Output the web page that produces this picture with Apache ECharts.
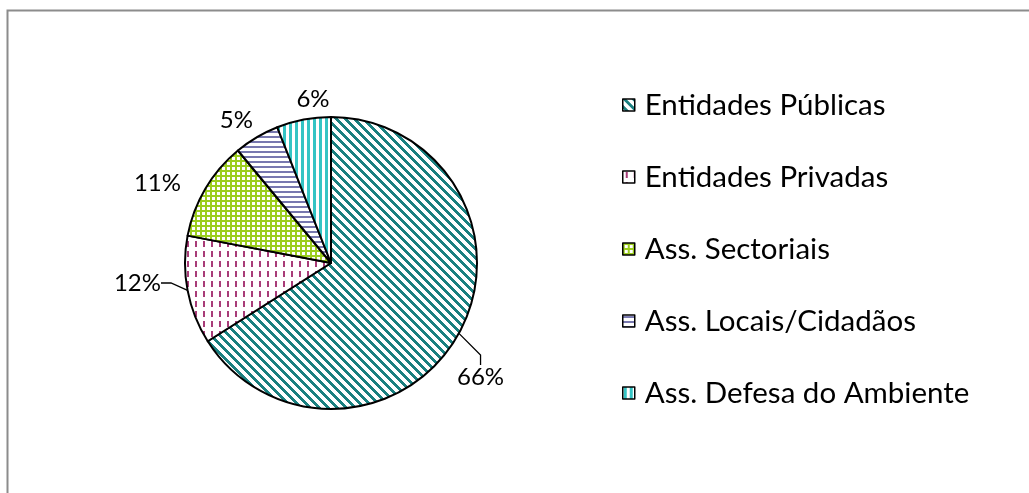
<!DOCTYPE html>
<html>
<head>
<meta charset="utf-8">
<script src="https://cdn.jsdelivr.net/npm/echarts@6/dist/echarts.min.js"></script>
<style>
html,body{margin:0;padding:0;background:#fff;}
#c{width:1029px;height:493px;}
</style>
</head>
<body>
<div id="c"></div>
<script>
const categories = ['Entidades Públicas', 'Entidades Privadas', 'Ass. Sectoriais', 'Ass. Locais/Cidadãos', 'Ass. Defesa do Ambiente'];
const values = [66, 12, 11, 5, 6];
const labelTexts = ['66%', '12%', '11%', '5%', '6%'];

function tile(w, h, rgb, pred) {
  const c = document.createElement('canvas');
  c.width = w; c.height = h;
  const ctx = c.getContext('2d');
  const img = ctx.createImageData(w, h);
  for (let y = 0; y < h; y++) {
    for (let x = 0; x < w; x++) {
      const i = (y * w + x) * 4;
      const on = pred(x, y);
      img.data[i] = on ? rgb[0] : 255;
      img.data[i + 1] = on ? rgb[1] : 255;
      img.data[i + 2] = on ? rgb[2] : 255;
      img.data[i + 3] = 255;
    }
  }
  ctx.putImageData(img, 0, 0);
  return { image: c, repeat: 'repeat' };
}
const patterns = [
  tile(9, 9, [26, 128, 128], (x, y) => ((x - y + 18) % 9) < 4),
  tile(8, 10, [168, 60, 120], (x, y) => x >= 3 && x < 5 && y >= 1 && y < 7),
  tile(5, 5, [155, 205, 30], (x, y) => x < 2 || y < 2),
  tile(5, 5, [120, 120, 175], (x, y) => y === 1 || y === 2),
  tile(6, 6, [52, 196, 196], (x, y) => x >= 1 && x < 4)
];

const labelPos = [
  { x: 457, y: 377, align: 'left' },
  { x: 161, y: 283, align: 'right' },
  { x: 181, y: 183, align: 'right' },
  { x: 253, y: 120, align: 'right' },
  { x: 313, y: 99, align: 'center' }
];

const chart = echarts.init(document.getElementById('c'), null, { renderer: 'canvas' });
chart.setOption({
  animation: false,
  backgroundColor: '#fff',
  graphic: [{
    type: 'rect',
    shape: { x: 7.5, y: 10.5, width: 1040, height: 500 },
    style: { fill: 'none', stroke: '#8c8c8c', lineWidth: 2 },
    silent: true, z: -1
  }],
  legend: {
    orient: 'vertical',
    left: 617,
    top: 85,
    itemGap: 42,
    itemWidth: 12,
    itemHeight: 12,
    icon: 'rect',
    textStyle: { fontFamily: 'Lato', fontSize: 29.5, lineHeight: 30, color: '#000', padding: [0, 0, 0, 5] },
    itemStyle: { borderColor: '#000', borderWidth: 1.5 },
    data: categories
  },
  series: [{
    type: 'pie',
    center: [331, 263],
    radius: 146,
    startAngle: 90,
    clockwise: true,
    avoidLabelOverlap: false,
    itemStyle: { borderColor: '#000', borderWidth: 2 },
    label: {
      show: true,
      position: 'outside',
      fontFamily: 'Lato',
      fontSize: 24,
      color: '#000',
      formatter: p => labelTexts[p.dataIndex]
    },
    labelLine: { show: true, lineStyle: { color: '#000', width: 1.3 }, length: 10, length2: 10 },
    labelLayout: function (params) {
      const p = labelPos[params.dataIndex];
      return { x: p.x, y: p.y, align: p.align, verticalAlign: 'middle' };
    },
    emphasis: { disabled: true },
    data: categories.map((n, i) => ({
      name: n,
      value: values[i],
      itemStyle: { color: patterns[i] },
      labelLine: { show: i < 2 }
    }))
  }]
});
</script>
</body>
</html>
